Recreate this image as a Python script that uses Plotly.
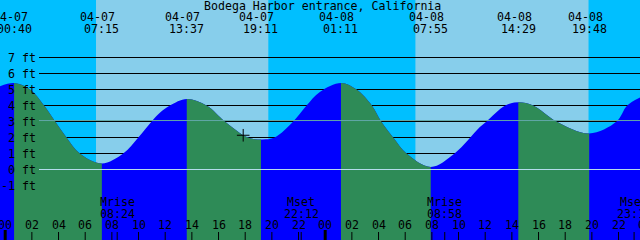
import plotly.graph_objects as go

# ---------------- data ----------------
TITLE = "Bodega Harbor entrance, California"

tide_dates = ["04-07", "04-07", "04-07", "04-07", "04-08", "04-08", "04-08", "04-08"]
tide_times = ["00:40", "07:15", "13:37", "19:11", "01:11", "07:55", "14:29", "19:48"]
tide_feet = [5.4, 0.38, 4.41, 1.88, 5.41, 0.16, 4.2, 2.25]

# intermediate points of the tide curve
# (hours since 04-07 00:00, feet)
read_hours = [-0.39, 1.86, 2.92, 3.75, 4.6, 5.6, 8.85, 9.98, 10.98, 11.6, 12.35,
              15.1, 16.48, 18.2, 20.2, 21.6, 22.6, 23.6, 26.35, 27.5, 28.2, 29.1,
              30.1, 33.7, 35.6, 36.1, 37.5, 39.6, 41.35, 45.85, 46.65, 47.61]
read_feet = [5.2, 5.0, 4.0, 3.0, 2.0, 1.0, 1.0, 2.0, 3.0, 3.54, 4.0,
             4.0, 3.0, 2.0, 2.0, 3.0, 4.0, 4.85, 5.0, 4.0, 3.0, 2.0,
             1.0, 1.0, 2.65, 3.0, 4.0, 4.0, 3.0, 3.0, 4.0, 4.5]

sun_times = ["04-07 06:49", "04-07 19:44", "04-08 06:47", "04-08 19:45"]  # rise, set, rise, set

moon_labels = ["Mrise", "Mset", "Mrise", "Mset"]
moon_times = ["04-07 08:24", "04-07 22:12", "04-08 08:58", "04-08 23:10"]

now_time = "04-07 17:51"
now_feet = 2.14

ft_levels = [-1, 0, 1, 2, 3, 4, 5, 6, 7]
ft_labels = ["-1 ft", "0 ft", "1 ft", "2 ft", "3 ft", "4 ft", "5 ft", "6 ft", "7 ft"]
mean_level = 3.06

hour_ticks = list(range(0, 50, 2))
hour_labels = ["%02d" % (h % 24) for h in hour_ticks]

# ---------------- styling / geometry ----------------
W, H = 640, 240
PX_PER_H = 40.0 / 3.0
X0 = 5.2          # pixel of 04-07 00:00
PX_PER_FT = 16.0
Y0 = 169.5        # pixel of 0 ft
NIGHT = "#00BFFF"
DAY = "#87CEEB"
FALL = "#2E8B57"
RISE = "#0000FF"
FONT = dict(family="DejaVu Sans Mono", size=11.6, color="black")

T_RANGE = [-X0 / PX_PER_H, (W - X0) / PX_PER_H]
Y_RANGE = [(Y0 - H) / PX_PER_FT, Y0 / PX_PER_FT]


def hours(stamp):
    d, hm = stamp.split(" ")
    day = int(d.split("-")[1]) - 7
    hh, mm = hm.split(":")
    return day * 24 + int(hh) + int(mm) / 60.0


def xfrac(t):
    return (X0 + t * PX_PER_H) / W


def yfrac(py):
    return 1 - py / H


tide_hours = [hours(d + " " + t) for d, t in zip(tide_dates, tide_times)]
pts = sorted(list(zip(tide_hours, tide_feet)) + list(zip(read_hours, read_feet)))
cx = [p[0] for p in pts]
cy = [p[1] for p in pts]

fig = go.Figure()


def add_fill(xa, color):
    fig.add_trace(go.Scatter(x=[T_RANGE[0] - 2, T_RANGE[1] + 2], y=[Y_RANGE[0] - 1] * 2,
                             mode="lines", line=dict(width=0), xaxis=xa, yaxis="y",
                             hoverinfo="skip", showlegend=False))
    fig.add_trace(go.Scatter(x=cx, y=cy, mode="lines", fill="tonexty", fillcolor=color,
                             line=dict(width=0, shape="spline", color=color),
                             xaxis=xa, yaxis="y", hoverinfo="skip", showlegend=False))


add_fill("x", RISE)

axes = {}
k = 2
# falling segments: from each high to the following low
for i in range(len(tide_hours) - 1):
    if tide_feet[i] > tide_feet[i + 1]:
        t0, t1 = tide_hours[i], tide_hours[i + 1]
        axes["xaxis%d" % k] = dict(domain=[max(0, xfrac(t0)), min(1, xfrac(t1))],
                                   range=[t0, t1], visible=False, anchor="y",
                                   fixedrange=True)
        add_fill("x%d" % k, FALL)
        k += 1

# overlay axis for the "now" marker
axes["xaxis%d" % k] = dict(domain=[0, 1], range=T_RANGE, visible=False, anchor="y")
fig.add_trace(go.Scatter(x=[hours(now_time)], y=[now_feet], mode="markers",
                         marker=dict(symbol="cross-thin", size=9,
                                     line=dict(width=1, color="black")),
                         xaxis="x%d" % k, yaxis="y", hoverinfo="skip", showlegend=False))

shapes = []
# day / night bands
sun_h = [hours(s) for s in sun_times]
edges = [T_RANGE[0] - 1] + sun_h + [T_RANGE[1] + 1]
for i in range(len(edges) - 1):
    shapes.append(dict(type="rect", xref="x", yref="paper", x0=edges[i], x1=edges[i + 1],
                       y0=0, y1=1, fillcolor=NIGHT if i % 2 == 0 else DAY,
                       line=dict(width=0), layer="below"))
# black level lines (under the tide fill)
for f in ft_levels:
    shapes.append(dict(type="line", xref="paper", yref="y", x0=39 / W, x1=1, y0=f, y1=f,
                       line=dict(color="black", width=1), layer="below"))
# light lines above the fill
shapes.append(dict(type="line", xref="paper", yref="y", x0=39 / W, x1=1, y0=mean_level,
                   y1=mean_level, line=dict(color="#62A8A8", width=1), layer="above"))
shapes.append(dict(type="line", xref="paper", yref="y", x0=39 / W, x1=1, y0=0, y1=0,
                   line=dict(color="#B4DCEC", width=1), layer="above"))
# hour ticks
for h in hour_ticks:
    mid = h % 24 == 0
    shapes.append(dict(type="line", xref="paper", yref="paper", x0=xfrac(h), x1=xfrac(h),
                       y0=yfrac(230 if mid else 232), y1=0,
                       line=dict(color="black", width=3 if mid else 1), layer="above"))
# moon ticks
for m in moon_times:
    t = hours(m)
    shapes.append(dict(type="line", xref="paper", yref="paper", x0=xfrac(t), x1=xfrac(t),
                       y0=yfrac(232), y1=0, line=dict(color="black", width=1),
                       layer="above"))

ann = []


def text(x, py, s, xanchor="center", xshift=0):
    ann.append(dict(xref="paper", yref="paper", x=x, y=yfrac(py), text=s,
                    showarrow=False, xanchor=xanchor, yanchor="middle", xshift=xshift,
                    font=FONT, borderpad=0))


text(322 / W, 5.5, TITLE)
for d, tm, th in zip(tide_dates, tide_times, tide_hours):
    text(xfrac(th), 17, d, xshift=-4)
    text(xfrac(th), 29, tm)
for f, lab in zip(ft_levels, ft_labels):
    text(37 / W, Y0 - f * PX_PER_FT, lab, xanchor="right")
for h, lab in zip(hour_ticks, hour_labels):
    text(xfrac(h), 225, lab)
for lab, m in zip(moon_labels, moon_times):
    t = hours(m)
    text(xfrac(t), 201.5, lab)
    text(xfrac(t), 213.5, m.split(" ")[1])

fig.update_layout(
    width=W, height=H, margin=dict(l=0, r=0, t=0, b=0, pad=0),
    paper_bgcolor=DAY, plot_bgcolor="rgba(0,0,0,0)",
    xaxis=dict(domain=[0, 1], range=T_RANGE, visible=False, fixedrange=True),
    yaxis=dict(domain=[0, 1], range=Y_RANGE, visible=False, fixedrange=True),
    shapes=shapes, annotations=ann, showlegend=False,
    **axes,
)
fig.write_html("out.html", config={"displayModeBar": False})
